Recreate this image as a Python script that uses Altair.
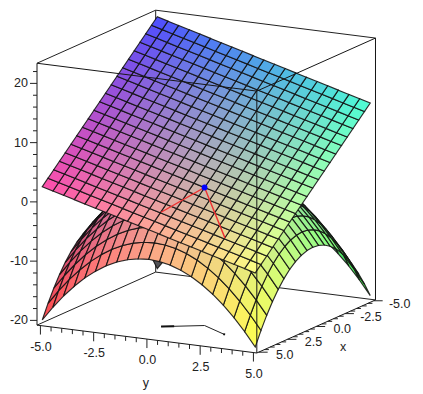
import altair as alt
import pandas as pd

# ---- values ----
grid = [-5.0, -4.5, -4.0, -3.5, -3.0, -2.5, -2.0, -1.5, -1.0, -0.5, 0.0,
        0.5, 1.0, 1.5, 2.0, 2.5, 3.0, 3.5, 4.0, 4.5, 5.0]
dome_top = 5.0
dome_drop = [12.5, 10.13, 8.0, 6.13, 4.5, 3.13, 2.0, 1.13, 0.5, 0.13, 0.0,
             0.13, 0.5, 1.13, 2.0, 3.13, 4.5, 6.13, 8.0, 10.13, 12.5]
plane_mid = 7.5
plane_x_part = [10.0, 9.0, 8.0, 7.0, 6.0, 5.0, 4.0, 3.0, 2.0, 1.0, 0.0,
                -1.0, -2.0, -3.0, -4.0, -5.0, -6.0, -7.0, -8.0, -9.0, -10.0]
plane_y_part = [5.0, 4.5, 4.0, 3.5, 3.0, 2.5, 2.0, 1.5, 1.0, 0.5, 0.0,
                -0.5, -1.0, -1.5, -2.0, -2.5, -3.0, -3.5, -4.0, -4.5, -5.0]
trace_x = [3.0, 2.0, 3.0]
trace_y = [-0.5, 1.0, 2.5]
trace_z = [-1.5, 2.5, -4.5]
point_xyz = [2.0, 1.0, 2.5]
box_xy = 5.16
box_zmin, box_zmax = -20.8, 23.4
z_ticks = list(range(-20, 23, 2))
z_labels = [-20, -10, 0, 10, 20]
xy_ticks = [-5.0, -4.5, -4.0, -3.5, -3.0, -2.5, -2.0, -1.5, -1.0, -0.5, 0.0, 0.5, 1.0, 1.5, 2.0,
            2.5, 3.0, 3.5, 4.0, 4.5, 5.0]
xy_labels = [-5.0, -2.5, 0.0, 2.5, 5.0]
FONT = "Liberation Sans"
INK = "#1c1c1c"


# ---- fixed view of the 3D box ----
def proj(x, y, z):
    return [198.25 - 11.5 * x + 21.3 * y, 181.3 + 5.14 * x + 2.7 * y - 5.925 * z]


def depth(x, y, z):
    return x + 0.54 * y + 1.114 * z


def channel(v, lo, hi):
    return round(255 * (0.3 + 0.7 * (v - lo) / (hi - lo)))


def colour(x, y, z):
    r = channel(x, -5, 5)
    g = channel(y, -5, 5)
    b = channel(min(z, 22.5), -20, 22.5)
    return f"#{r:02x}{g:02x}{b:02x}"


def surface(zfun):
    quads = []
    n = len(grid) - 1
    for i in range(n):
        for j in range(n):
            c = [(grid[i + a], grid[j + b], zfun(i + a, j + b)) for a, b in ((0, 0), (1, 0), (1, 1), (0, 1))]
            m = [sum(p[k] for p in c) / 4 for k in range(3)]
            ring = [proj(*p) for p in c]
            ring.append(ring[0])
            quads.append((depth(*m), {
                "type": "Feature",
                "properties": {"fill": colour(*m)},
                "geometry": {"type": "Polygon", "coordinates": [ring]},
            }))
    quads.sort(key=lambda q: q[0])
    return [q[1] for q in quads]


def seg(*pts):
    return {"type": "Feature", "properties": {},
            "geometry": {"type": "LineString", "coordinates": [proj(*p) for p in pts]}}


PROJ = dict(type="identity", scale=1, translate=[0, 0])


def polys(feats):
    return (alt.Chart(alt.Data(values=feats))
            .mark_geoshape(stroke="#111111", strokeWidth=1.15, strokeOpacity=0.88)
            .encode(fill=alt.Fill("properties.fill:N", scale=None))
            .project(**PROJ))


def lines(feats, color=INK, width=1.0):
    return (alt.Chart(alt.Data(values=feats))
            .mark_geoshape(filled=False, stroke=color, strokeWidth=width)
            .project(**PROJ))


def texts(rows, align="center"):
    return (alt.Chart(pd.DataFrame(rows, columns=["lon", "lat", "t"]))
            .mark_text(font=FONT, fontSize=12.5, color="#222222", align=align, baseline="middle")
            .encode(longitude="lon:Q", latitude="lat:Q", text="t:N")
            .project(**PROJ))


B, lo, hi = box_xy, box_zmin, box_zmax
back_edges = [
    seg((B, -B, hi), (-B, -B, hi)), seg((-B, -B, hi), (-B, B, hi)),
    seg((-B, -B, hi), (-B, -B, lo)),
    seg((B, -B, lo), (-B, -B, lo)), seg((-B, -B, lo), (-B, B, lo)),
]
front_edges = [
    seg((B, -B, hi), (B, B, hi)), seg((B, B, hi), (-B, B, hi)),
    seg((B, -B, hi), (B, -B, lo)), seg((B, B, hi), (B, B, lo)), seg((-B, B, hi), (-B, B, lo)),
    seg((B, -B, lo), (B, B, lo)), seg((B, B, lo), (-B, B, lo)),
]

ticks = []
for z in z_ticks:
    x0, y0 = proj(B, -B, z)
    n = 7 if z in z_labels else 4
    ticks.append({"type": "Feature", "properties": {},
                  "geometry": {"type": "LineString", "coordinates": [[x0, y0], [x0 - n, y0]]}})
for t in xy_ticks:
    n = 9 if t in xy_labels else 4.5
    x0, y0 = proj(B, t, lo)
    ticks.append({"type": "Feature", "properties": {},
                  "geometry": {"type": "LineString", "coordinates": [[x0, y0], [x0, y0 + n]]}})
    x0, y0 = proj(t, B, lo)
    ticks.append({"type": "Feature", "properties": {},
                  "geometry": {"type": "LineString", "coordinates": [[x0, y0], [x0 + n, y0]]}})

z_rows = [[proj(B, -B, z)[0] - 9, proj(B, -B, z)[1], str(z)] for z in z_labels]
xy_rows = []
for t in xy_labels:
    a = proj(B, t, lo)
    xy_rows.append([a[0] + 0.5, a[1] + 21, f"{t:.1f}"])
    b = proj(t, B, lo)
    xy_rows.append([b[0] + 26, b[1] + 3, f"{t:.1f}"])
title_rows = [[proj(B, 0, lo)[0] - 1, proj(B, 0, lo)[1] + 44, "y"],
              [proj(0, B, lo)[0] + 27, proj(0, B, lo)[1] + 21, "x"]]

shadow = [(trace_x[k], trace_y[k], box_zmin) for k in range(3)]
trace = [(trace_x[k], trace_y[k], trace_z[k]) for k in range(3)]
head = [shadow[0], (2.7, -0.05, box_zmin)]
tail = [(2.92, 2.38, box_zmin), shadow[2]]

dome = surface(lambda i, j: dome_top - dome_drop[i] - dome_drop[j])
plane = surface(lambda i, j: plane_mid + plane_x_part[i] + plane_y_part[j])

px, py = proj(*point_xyz)
dot = (alt.Chart(pd.DataFrame({"lon": [px], "lat": [py]}))
       .mark_circle(size=34, color="#0000ff", opacity=1)
       .encode(longitude="lon:Q", latitude="lat:Q")
       .project(**PROJ))

chart = alt.layer(
    lines(back_edges, "#222222", 1.0),
    lines([seg(*shadow)], "#222222", 1.0),
    lines([seg(*head)], "#111111", 2.0),
    lines([seg(*tail)], "#111111", 2.0),
    polys(dome),
    polys(plane),
    lines([seg(*trace)], "#ee3030", 1.4),
    dot,
    lines(front_edges, "#161616", 1.0),
    lines(ticks, "#222222", 1.0),
    texts(z_rows, "right"),
    texts(xy_rows),
    texts(title_rows),
).properties(width=407, height=382, padding=0, autosize="none"
).configure_view(stroke=None).configure(background="#ffffff")

chart.save("out.html", embed_options={"renderer": "svg", "actions": False})
